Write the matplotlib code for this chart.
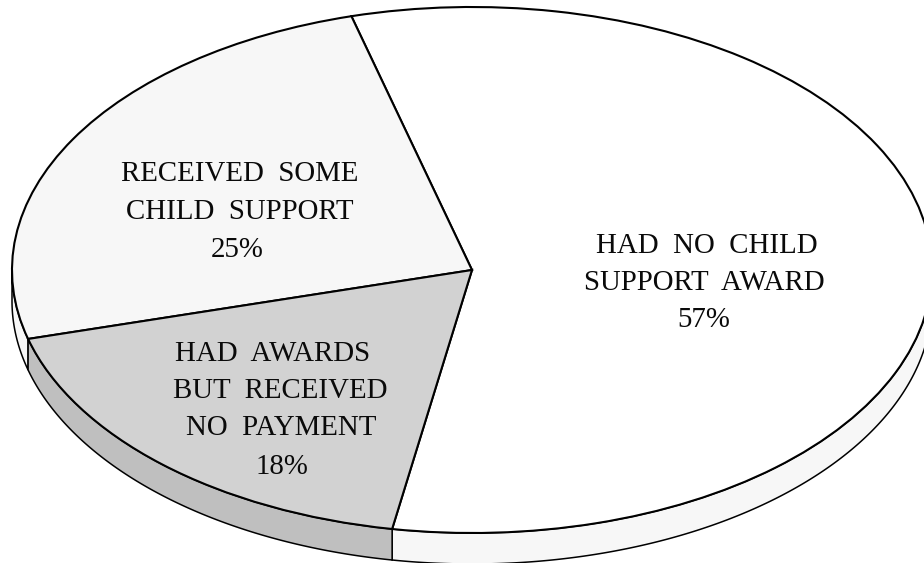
import numpy as np
import matplotlib
matplotlib.use("Agg")
import matplotlib.pyplot as plt
from matplotlib.patches import Polygon

# Child support status of custodial parents (percent)
categories = ["HAD NO CHILD SUPPORT AWARD",
              "RECEIVED SOME CHILD SUPPORT",
              "HAD AWARDS BUT RECEIVED NO PAYMENT"]
shares = [57, 25, 18]
top_colors = ["#ffffff", "#f7f7f7", "#d2d2d2"]
side_colors = ["#f7f7f7", "#f7f7f7", "#bfbfbf"]

# Label lines for each slice, with their centres in figure pixels
label_lines = [
    ("HAD  NO  CHILD", 707, 246), ("SUPPORT  AWARD", 704, 283), ("57%", 704, 320),
    ("RECEIVED  SOME", 240, 174), ("CHILD  SUPPORT", 240, 212), ("25%", 237, 250),
    ("HAD  AWARDS", 273, 354), ("BUT  RECEIVED", 280, 391),
    ("NO  PAYMENT", 281, 428), ("18%", 282, 467),
]

W, H = 924, 563
CX, CY, RX, RY = 472, 270, 460, 263   # ellipse of the pie top, pixels
DEPTH = 31 / RY                       # wall height in axis units

fig = plt.figure(figsize=(W / 100, H / 100), dpi=100, facecolor="white")
ax = fig.add_axes([0, 0, 1, 1])

wedges, _ = ax.pie(shares, colors=top_colors, startangle=260, counterclock=True,
                   wedgeprops=dict(edgecolor="black", linewidth=1.5, zorder=3))

# Visible front wall of the disc, one piece per slice
for wedge, side in zip(wedges, side_colors):
    for turn in (0, 360):
        t1, t2 = max(wedge.theta1 - turn, 180), min(wedge.theta2 - turn, 360)
        if t2 <= t1:
            continue
        t = np.radians(np.linspace(t1, t2, 200))
        x, y = np.cos(t), np.sin(t)
        pts = np.column_stack([np.r_[x, x[::-1]], np.r_[y, y[::-1] - DEPTH]])
        ax.add_patch(Polygon(pts, closed=True, facecolor=side, edgecolor="black",
                             linewidth=1.1, zorder=2))

ax.set_aspect("auto")
ax.set_xlim(-CX / RX, (W - CX) / RX)
ax.set_ylim(-(H - CY) / RY, CY / RY)
ax.axis("off")

for text, px, py in label_lines:
    fig.text(px / W, 1 - py / H, text, ha="center", va="center",
             family="Liberation Serif", fontsize=20.8, color="#0a0a0a")

fig.savefig("out.png", dpi=100, facecolor="white")
